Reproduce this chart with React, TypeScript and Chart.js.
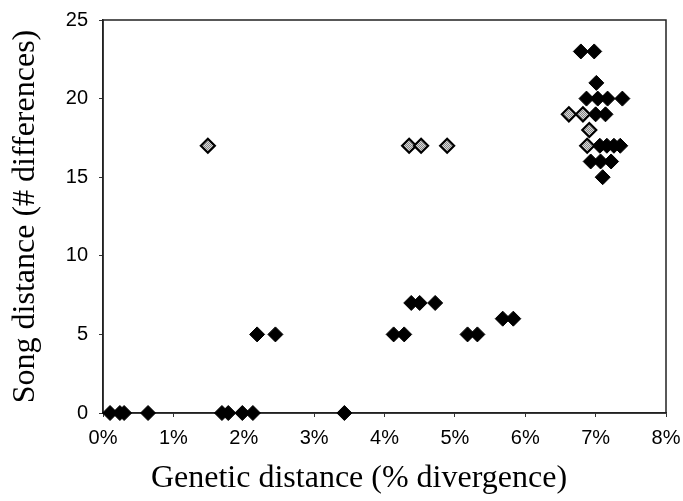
import React, { useEffect, useRef } from "react";
import { Chart, registerables } from "chart.js";

Chart.register(...registerables);

// Black diamonds: genetic distance (%) and song distance (# differences)
const blackX = [
  0.10, 0.24, 0.30, 0.64, 1.69, 1.78, 1.98, 2.13, 3.43,
  2.19, 2.45, 4.13, 4.28, 5.18, 5.32,
  5.68, 5.83,
  4.38, 4.50, 4.72,
  6.79, 6.98,
  7.01,
  6.87, 7.03, 7.17, 7.38,
  7.00, 7.14,
  7.06, 7.16, 7.26, 7.35,
  6.93, 7.07, 7.22,
  7.10,
];
const blackY = [
  0, 0, 0, 0, 0, 0, 0, 0, 0,
  5, 5, 5, 5, 5, 5,
  6, 6,
  7, 7, 7,
  23, 23,
  21,
  20, 20, 20, 20,
  19, 19,
  17, 17, 17, 17,
  16, 16, 16,
  15,
];

// Grey (hatched) diamonds
const greyX = [1.49, 4.35, 4.52, 4.89, 6.88, 6.62, 6.82, 6.91];
const greyY = [17, 17, 17, 17, 17, 19, 19, 18];

const xTicks = [0, 1, 2, 3, 4, 5, 6, 7, 8];
const yTicks = [0, 5, 10, 15, 20, 25];

const xTitle = "Genetic distance (% divergence)";
const yTitle = "Song distance (# differences)";

const serif = "'Liberation Serif', 'Times New Roman', serif";
const sans = "'Liberation Sans', Arial, sans-serif";

function makePattern(): CanvasPattern | string {
  const c = document.createElement("canvas");
  c.width = 2;
  c.height = 2;
  const g = c.getContext("2d");
  if (!g) return "#a8a8a8";
  g.fillStyle = "#dcdcdc";
  g.fillRect(0, 0, 2, 2);
  g.fillStyle = "#858585";
  g.fillRect(0, 0, 1, 1);
  g.fillRect(1, 1, 1, 1);
  const p = g.createPattern(c, "repeat");
  return p || "#a8a8a8";
}

const framePlugin = {
  id: "frame",
  beforeDatasetsDraw(chart: any) {
    const { ctx, chartArea } = chart;
    ctx.save();
    ctx.strokeStyle = "#222";
    ctx.lineWidth = 1.5;
    ctx.strokeRect(chartArea.left, chartArea.top, chartArea.right - chartArea.left, chartArea.bottom - chartArea.top);
    ctx.restore();
  },
  afterDraw(chart: any) {
    const { ctx } = chart;
    ctx.save();
    ctx.fillStyle = "#000";
    ctx.font = "32px " + serif;
    ctx.textAlign = "center";
    ctx.textBaseline = "middle";
    ctx.fillText(xTitle, 359, 479);
    ctx.restore();
  },
};

export default function App() {
  const ref = useRef<HTMLCanvasElement | null>(null);

  useEffect(() => {
    document.body.style.margin = "0";
    if (!ref.current) return;
    const pattern = makePattern();
    const black = blackX.map((x, i) => ({ x, y: blackY[i] }));
    const grey = greyX.map((x, i) => ({ x, y: greyY[i] }));

    const chart = new Chart(ref.current, {
      type: "scatter",
      data: {
        datasets: [
          {
            label: "grey",
            data: grey,
            pointStyle: "rectRot",
            pointRadius: 7,
            pointHoverRadius: 7,
            backgroundColor: pattern as any,
            borderColor: "#000",
            borderWidth: 2.2,
            clip: false as any,
          },
          {
            label: "black",
            data: black,
            pointStyle: "rectRot",
            pointRadius: 7.5,
            pointHoverRadius: 7.5,
            backgroundColor: "#000",
            borderColor: "#000",
            borderWidth: 1,
            clip: false as any,
          },
        ],
      },
      options: {
        animation: false,
        responsive: false,
        maintainAspectRatio: false,
        layout: { padding: { left: 0, right: 17, top: 20, bottom: 0 } },
        plugins: { legend: { display: false }, tooltip: { enabled: false } },
        scales: {
          x: {
            type: "linear",
            min: 0,
            max: 8,
            afterBuildTicks: (s: any) => {
              s.ticks = xTicks.map((v) => ({ value: v }));
            },
            afterFit: (s: any) => {
              s.height = 88;
              s.paddingLeft = 0;
              s.paddingRight = 0;
            },
            ticks: {
              color: "#000",
              padding: 9,
              font: { family: sans, size: 20 },
              callback: (v: any) => v + "%",
              maxRotation: 0,
            },
            grid: { display: true, drawOnChartArea: false, drawTicks: true, tickLength: 4, color: "#333" },
            border: { display: true, color: "#222", width: 1.5 },
            title: { display: false, text: xTitle },
          },
          y: {
            type: "linear",
            min: 0,
            max: 25,
            afterBuildTicks: (s: any) => {
              s.ticks = yTicks.map((v) => ({ value: v }));
            },
            afterFit: (s: any) => {
              s.width = 103;
              s.paddingTop = 0;
              s.paddingBottom = 0;
            },
            ticks: {
              color: "#000",
              padding: 11,
              font: { family: sans, size: 20 },
            },
            grid: { display: true, drawOnChartArea: false, drawTicks: true, tickLength: 4, color: "#333" },
            border: { display: true, color: "#222", width: 1.5 },
            title: {
              display: true,
              text: yTitle,
              color: "#000",
              font: { family: serif, size: 32 },
              padding: { top: 6, bottom: 0 },
            },
          },
        },
      },
      plugins: [framePlugin],
    });
    return () => chart.destroy();
  }, []);

  return (
    <div style={{ position: "fixed", left: 0, top: 0, width: 683, height: 501, background: "#fff" }}>
      <canvas ref={ref} width={683} height={501} style={{ width: 683, height: 501, display: "block" }} />
    </div>
  );
}
